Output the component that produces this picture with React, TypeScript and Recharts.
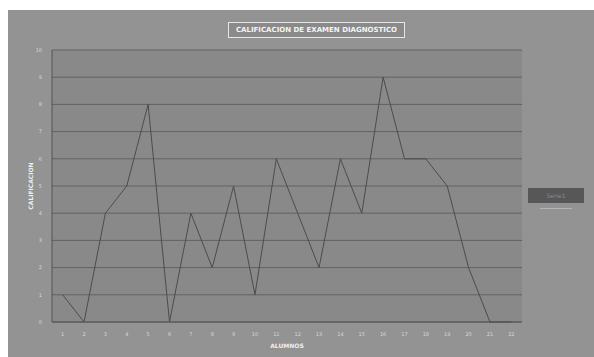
import { LineChart, Line, XAxis, YAxis, CartesianGrid } from "recharts";

// alumnos 1..22 y su calificacion (0-10)
const alumnos = ["1", "2", "3", "4", "5", "6", "7", "8", "9", "10", "11", "12", "13", "14", "15", "16", "17", "18", "19", "20", "21", "22"];
const calificaciones = [1, 0, 4, 5, 8, 0, 4, 2, 5, 1, 6, 4, 2, 6, 4, 9, 6, 6, 5, 2, 0, 0];
const yTicks = [0, 1, 2, 3, 4, 5, 6, 7, 8, 9, 10];
const serieName = "Serie1";

const data = alumnos.map((a, i) => ({ alumno: a, calificacion: calificaciones[i] }));

const FONT = "'DejaVu Sans', sans-serif";

export default function App() {
  return (
    <div
      style={{
        position: "fixed",
        left: 8,
        top: 10,
        width: 586,
        height: 347,
        background: "#939393",
        fontFamily: FONT,
      }}
    >
      <LineChart
        width={586}
        height={347}
        data={data}
        margin={{ top: 40, right: 72, bottom: 5, left: 14 }}
      >
        <CartesianGrid
          vertical={false}
          stroke="#626262"
          fill="#898989"
        />
        <XAxis
          dataKey="alumno"
          scale="band"
          height={30}
          tickLine={false}
          axisLine={{ stroke: "#555555" }}
          tick={{ fontSize: 5, fill: "#d8d8d8", fontFamily: FONT }}
          tickMargin={4}
          interval={0}
          label={{
            value: "ALUMNOS",
            position: "insideBottom",
            offset: 4,
            fontSize: 6,
            fontWeight: "bold",
            fill: "#f0f0f0",
            fontFamily: FONT,
          }}
        />
        <YAxis
          width={30}
          domain={[0, 10]}
          ticks={yTicks}
          tickLine={false}
          axisLine={{ stroke: "#555555" }}
          tick={{ fontSize: 5, fill: "#d8d8d8", fontFamily: FONT }}
          tickMargin={4}
          label={{
            value: "CALIFICACION",
            angle: -90,
            position: "center",
            dx: -6,
            fontSize: 6,
            fontWeight: "bold",
            fill: "#f0f0f0",
            fontFamily: FONT,
          }}
        />
        <Line
          type="linear"
          dataKey="calificacion"
          name={serieName}
          stroke="#4c4c4c"
          strokeWidth={1}
          dot={false}
          isAnimationActive={false}
        />
      </LineChart>

      <div
        style={{
          position: "absolute",
          left: 220,
          top: 12,
          width: 175,
          height: 14,
          border: "1px solid #e6e6e6",
          background: "#8a8a8a",
          color: "#f4f4f4",
          fontSize: 7,
          fontWeight: "bold",
          lineHeight: "14px",
          textAlign: "center",
          whiteSpace: "nowrap",
        }}
      >
        CALIFICACION DE EXAMEN DIAGNOSTICO
      </div>

      <div
        style={{
          position: "absolute",
          left: 520,
          top: 178,
          width: 56,
          height: 15,
          background: "#575757",
          color: "#8c8c8c",
          fontSize: 6,
          lineHeight: "15px",
          textAlign: "center",
        }}
      >
        {serieName}
      </div>
      <div
        style={{
          position: "absolute",
          left: 532,
          top: 198,
          width: 32,
          height: 1,
          background: "#b4b4b4",
        }}
      />
    </div>
  );
}
